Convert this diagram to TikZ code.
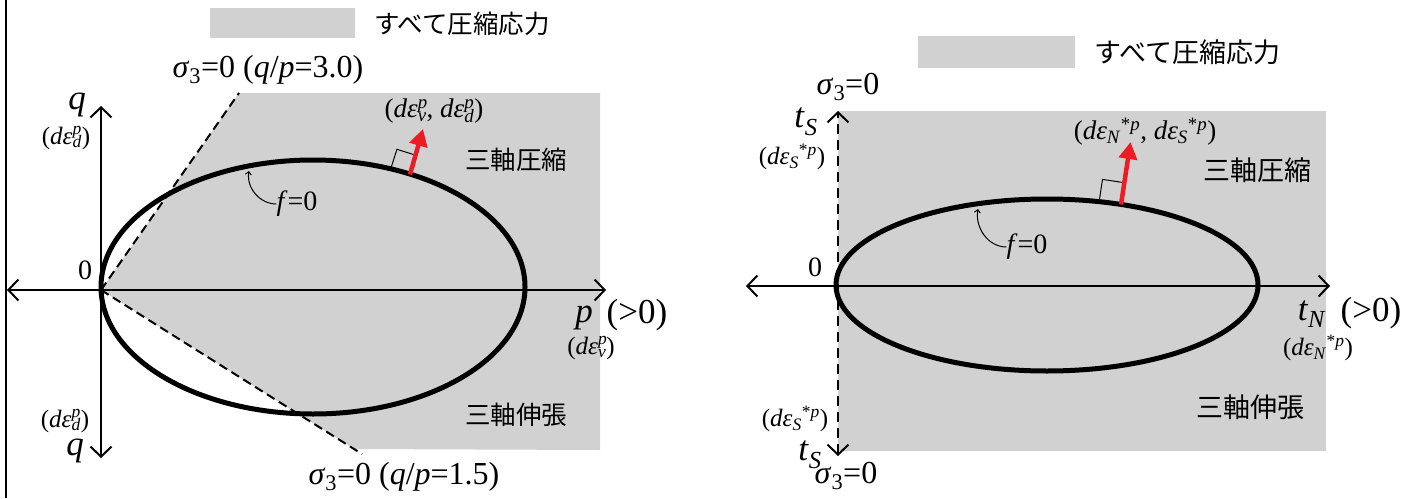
\documentclass[tikz,border=0pt]{standalone}
\usepackage{fontspec}
\setmainfont{Liberation Serif}
\newfontfamily\jpfont{Noto Sans CJK JP}
\usetikzlibrary{arrows.meta}
\definecolor{regiongray}{RGB}{209,209,209}
\definecolor{normalred}{RGB}{237,28,36}
\newcommand\fsz[1]{\fontsize{#1}{#1}\selectfont}
\newcommand\ssp[2]{\rlap{\textsuperscript{#1}}\textsubscript{#2}}
\begin{document}
\begin{tikzpicture}[x=1pt,y=-1pt,
  axisline/.style={line width=2pt,{Straight Barb[length=10pt,width=21pt,line width=2pt]}-{Straight Barb[length=10pt,width=21pt,line width=2pt]}},
  sigmaline/.style={line width=2pt,dash pattern=on 9pt off 5pt},
  yield/.style={line width=5pt},
  normalvec/.style={line width=4.5pt,normalred,-{Triangle[length=17pt,width=18pt]}},
  rightangle/.style={line width=1pt},
  leader/.style={line width=1pt,-{Straight Barb[length=3pt,width=6pt]}},
  biglbl/.style={inner sep=0pt,font=\fsz{32}},
  axlbl/.style={inner sep=0pt,font=\fsz{35}},
  smlbl/.style={inner sep=0pt,font=\fsz{25}},
  veclbl/.style={inner sep=0pt,font=\fsz{27}},
  jplbl/.style={inner sep=0pt,font=\jpfont\fsz{25.5}},
  jplblr/.style={inner sep=0pt,font=\jpfont\fsz{27}},
  zerolbl/.style={inner sep=0pt,font=\fsz{28}},
]
\useasboundingbox (0,0) rectangle (1416,498);
% frame line
\coordinate (frT) at (6,0);
\coordinate (frB) at (6,498);
\draw[line width=1.8pt] (frT) -- (frB);

% ================= LEFT PANEL =================
\coordinate (Lo) at (101,290);
\coordinate (Lup) at (239,93);
\coordinate (Llo) at (362,454);
\coordinate (Lc) at (313,287);
% gray region
\fill[regiongray] (Lo) -- (Lup) -- (600,93) -- (600,450) -- (354,449) -- cycle;
% legend
\node[draw=none,fill=regiongray,minimum width=145pt,minimum height=30pt,inner sep=0pt] (Lleg) at (282.5,23) {};
\node[jplbl,anchor=west] (Llegt) at (374,24) {すべて圧縮応力};
% sigma3 lines
\draw[sigmaline] (Lo) -- (Lup);
\draw[sigmaline] (Lo) -- (Llo);
% axes
\coordinate (Lxl) at (7,290);
\coordinate (Lxr) at (606,290);
\coordinate (Lyt) at (101,106);
\coordinate (Lyb) at (101,458);
\draw[axisline] (Lxl) -- (Lxr);
\draw[axisline] (Lyb) -- (Lyt);
% yield surface
\draw[yield] (Lc) ellipse [x radius=212pt, y radius=127pt];
% normal vector
\coordinate (Lb) at (410,174.4);
\coordinate (Lt) at (423,129);
\coordinate (Ls1) at (390.9,168.4);
\coordinate (Ls2) at (396.9,149.3);
\coordinate (Ls3) at (416.0,155.3);
\draw[rightangle] (Ls1) -- (Ls2) -- (Ls3);
\draw[normalvec] (Lb) -- (Lt);
% labels
\node[biglbl] (Ls3top) at (268,70) {\textit{σ}\textsubscript{3}=0 (\textit{q}/\textit{p}=3.0)};
\node[biglbl] (Ls3bot) at (404,477) {\textit{σ}\textsubscript{3}=0 (\textit{q}/\textit{p}=1.5)};
\node[axlbl] (Lq1) at (77,105) {\textit{q}};
\node[smlbl] (Lq1s) at (66,138) {(\textit{dε}\ssp{\textit{p}}{\textit{d}})};
\node[smlbl] (Lq2s) at (65,421) {(\textit{dε}\ssp{\textit{p}}{\textit{d}})};
\node[axlbl] (Lq2) at (75,451) {\textit{q}};
\node[zerolbl] (L0) at (85,270) {0};
\node[axlbl] (Lp) at (584,318) {\textit{p}};
\node[axlbl] (Lpg) at (637,315) {(>0)};
\node[smlbl] (Lps) at (591,348) {(\textit{dε}\ssp{\textit{p}}{\textit{v}})};
\node[veclbl] (Lvec) at (434,111) {(\textit{dε}\ssp{\textit{p}}{\textit{v}}, \textit{dε}\ssp{\textit{p}}{\textit{d}})};
\node[jplbl] (Lcomp) at (516,160) {三軸圧縮};
\node[jplbl] (Lext) at (516,415) {三軸伸張};
\node[zerolbl] (Lf) at (297,204) {\textit{f}=0};
\coordinate (Lfp) at (249,171);
\draw[leader] (Lf.west) to[out=180,in=-100] (Lfp);

% ================= RIGHT PANEL =================
\coordinate (Ro) at (838,286);
\coordinate (Rc) at (1047,285);
\fill[regiongray] (838,111) rectangle (1326,451);
\node[draw=none,fill=regiongray,minimum width=157pt,minimum height=32pt,inner sep=0pt] (Rleg) at (996.5,52) {};
\node[jplblr,anchor=west] (Rlegt) at (1094,52) {すべて圧縮応力};
\coordinate (Rxl) at (746,286);
\coordinate (Rxr) at (1330,286);
\coordinate (Ryt) at (838,111);
\coordinate (Ryb) at (838,456);
\draw[axisline] (Rxl) -- (Rxr);
\draw[axisline,dash pattern=on 10pt off 6pt] (Ryb) -- (Ryt);
\draw[yield] (Rc) ellipse [x radius=211pt, y radius=86pt];
\coordinate (Rb) at (1121,204.5);
\coordinate (Rt) at (1130.5,142);
\coordinate (Rs1) at (1099.2,201.2);
\coordinate (Rs2) at (1102.5,179.4);
\coordinate (Rs3) at (1124.3,182.7);
\draw[rightangle] (Rs1) -- (Rs2) -- (Rs3);
\draw[normalvec] (Rb) -- (Rt);
\node[biglbl] (Rs3top) at (848,87) {\textit{σ}\textsubscript{3}=0};
\node[biglbl] (Rs3bot) at (846,476) {\textit{σ}\textsubscript{3}=0};
\node[axlbl] (Rts1) at (806,122) {\textit{t}\textsubscript{\textit{S}}};
\node[smlbl] (Rts1s) at (792,157) {(\textit{dε}\textsubscript{\textit{S}}\textsuperscript{*\textit{p}})};
\node[smlbl] (Rts2s) at (795,419) {(\textit{dε}\textsubscript{\textit{S}}\textsuperscript{*\textit{p}})};
\node[axlbl] (Rts2) at (810,455) {\textit{t}\textsubscript{\textit{S}}};
\node[zerolbl] (R0) at (815,267) {0};
\node[axlbl] (Rtn) at (1312,314) {\textit{t}\textsubscript{\textit{N}}};
\node[axlbl] (Rtng) at (1371,313) {(>0)};
\node[smlbl] (Rtns) at (1318,348) {(\textit{dε}\textsubscript{\textit{N}}\textsuperscript{*\textit{p}})};
\node[veclbl] (Rvec) at (1145,132) {(\textit{dε}\textsubscript{\textit{N}}\textsuperscript{*\textit{p}}, \textit{dε}\textsubscript{\textit{S}}\textsuperscript{*\textit{p}})};
\node[jplblr] (Rcomp) at (1257,170) {三軸圧縮};
\node[jplblr] (Rext) at (1250,407) {三軸伸張};
\node[zerolbl] (Rf) at (1027,247) {\textit{f}=0};
\coordinate (Rfp) at (978,209);
\draw[leader] (Rf.west) to[out=180,in=-100] (Rfp);
\end{tikzpicture}
\end{document}
